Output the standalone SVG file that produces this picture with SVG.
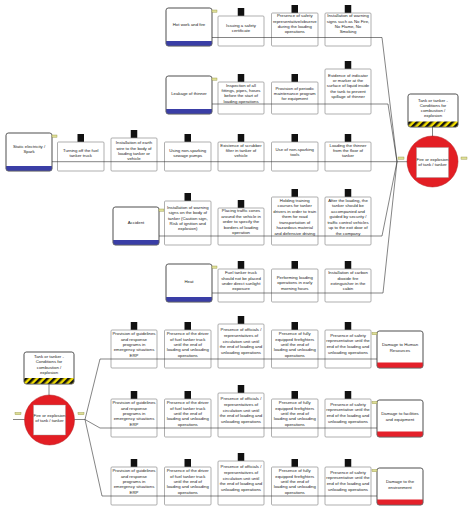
<svg xmlns="http://www.w3.org/2000/svg" width="474" height="513" viewBox="0 0 474 513">
<style>
.t{font-family:"Liberation Sans",Arial,sans-serif;font-size:4.3px;fill:#1a1a1a;text-anchor:middle}
.b{fill:#fff;stroke:#8c8c8c;stroke-width:0.7}
.tab{fill:#111}
.n{fill:#fff;stroke:#666;stroke-width:0.7}
.no{fill:none;stroke:#666;stroke-width:0.7}
.blue{fill:#3a3ea6}
.red{fill:#e4202a}
.c{fill:none;stroke:#333;stroke-width:0.6}
.tag{fill:#dede96;stroke:#8f8f3c;stroke-width:0.4}
.circ{fill:#e31e24;stroke:#b3161b;stroke-width:0.5}
.sq{fill:#fff;stroke:#999;stroke-width:0.4}
</style>
<defs>
<pattern id="hz" width="5" height="5" patternUnits="userSpaceOnUse" patternTransform="rotate(45)"><rect width="5" height="5" fill="#f2de00"/><rect width="2.5" height="5" fill="#111"/></pattern>
</defs>
<rect width="474" height="513" fill="#fff"/>

<!-- Threat nodes -->
<g id="threat-hot">
<rect class="n" x="166" y="8" width="46" height="38" rx="2.5"/>
<path class="blue" d="M166,41 h46 v2.5 a2.5,2.5 0 0 1 -2.5,2.5 h-41 a2.5,2.5 0 0 1 -2.5,-2.5 z"/>
<rect class="no" x="166" y="8" width="46" height="38" rx="2.5"/>
<text class="t" x="189" y="26">Hot work and fire</text>
<rect class="tag" x="212" y="10" width="5" height="2.2"/>
</g>
<g id="threat-leak">
<rect class="n" x="166" y="76" width="46" height="38" rx="2.5"/>
<path class="blue" d="M166,109 h46 v2.5 a2.5,2.5 0 0 1 -2.5,2.5 h-41 a2.5,2.5 0 0 1 -2.5,-2.5 z"/>
<rect class="no" x="166" y="76" width="46" height="38" rx="2.5"/>
<text class="t" x="189" y="95">Leakage of thinner</text>
<rect class="tag" x="212" y="78" width="5" height="2.2"/>
</g>
<g id="threat-static">
<rect class="n" x="6" y="133" width="46" height="38" rx="2.5"/>
<path class="blue" d="M6,166 h46 v2.5 a2.5,2.5 0 0 1 -2.5,2.5 h-41 a2.5,2.5 0 0 1 -2.5,-2.5 z"/>
<rect class="no" x="6" y="133" width="46" height="38" rx="2.5"/>
<text class="t"><tspan x="29" y="147.5">Static electricity /</tspan><tspan x="29" y="152.8">Spark</tspan></text>
<rect class="tag" x="52" y="135" width="5" height="2.2"/>
</g>
<g id="threat-accident">
<rect class="n" x="113" y="207" width="46" height="38" rx="2.5"/>
<path class="blue" d="M113,240 h46 v2.5 a2.5,2.5 0 0 1 -2.5,2.5 h-41 a2.5,2.5 0 0 1 -2.5,-2.5 z"/>
<rect class="no" x="113" y="207" width="46" height="38" rx="2.5"/>
<text class="t" x="136" y="224">Accident</text>
<rect class="tag" x="159" y="209" width="5" height="2.2"/>
</g>
<g id="threat-heat">
<rect class="n" x="166" y="264" width="46" height="38" rx="2.5"/>
<path class="blue" d="M166,297 h46 v2.5 a2.5,2.5 0 0 1 -2.5,2.5 h-41 a2.5,2.5 0 0 1 -2.5,-2.5 z"/>
<rect class="no" x="166" y="264" width="46" height="38" rx="2.5"/>
<text class="t" x="189" y="283">Heat</text>
<rect class="tag" x="212" y="266" width="5" height="2.2"/>
</g>

<!-- Row 1 barriers -->
<g id="b-1-1"><rect class="tab" x="237.75" y="8" width="6.5" height="8"/><rect class="b" x="218" y="16" width="46" height="30" rx="1"/>
<text class="t"><tspan x="241" y="26.5">Issuing a safety</tspan><tspan x="241" y="31.8">certificate</tspan></text></g>
<g id="b-1-2"><rect class="tab" x="291.5" y="5" width="6.5" height="8"/><rect class="b" x="271.5" y="13" width="46.5" height="33" rx="1"/>
<text class="t"><tspan x="294.75" y="17.2">Presence of safety</tspan><tspan x="294.75" y="22.5">representative/observe</tspan><tspan x="294.75" y="27.8">during the loading</tspan><tspan x="294.75" y="33.1">operations</tspan></text></g>
<g id="b-1-3"><rect class="tab" x="344.75" y="5" width="6.5" height="8"/><rect class="b" x="325" y="13" width="46" height="33" rx="1"/>
<text class="t"><tspan x="348" y="17.2">Installation of warning</tspan><tspan x="348" y="22.5">signs such as No Fire,</tspan><tspan x="348" y="27.8">No Flame, No</tspan><tspan x="348" y="33.1">Smoking</tspan></text></g>

<!-- Row 2 barriers -->
<g id="b-2-1"><rect class="tab" x="237.75" y="74" width="6.5" height="8"/><rect class="b" x="218" y="82" width="46" height="32" rx="1"/>
<text class="t"><tspan x="241" y="87">Inspection of all</tspan><tspan x="241" y="92.2">fittings, pipes, hoses</tspan><tspan x="241" y="97.4">before the start of</tspan><tspan x="241" y="102.6">loading operations</tspan></text></g>
<g id="b-2-2"><rect class="tab" x="291.5" y="74" width="6.5" height="8"/><rect class="b" x="271.5" y="82" width="46.5" height="32" rx="1"/>
<text class="t"><tspan x="294.75" y="89.8">Provision of periodic</tspan><tspan x="294.75" y="95.1">maintenance program</tspan><tspan x="294.75" y="100.4">for equipment</tspan></text></g>
<g id="b-2-3"><rect class="tab" x="344.75" y="61" width="6.5" height="8"/><rect class="b" x="325" y="69" width="46" height="45" rx="1"/>
<text class="t"><tspan x="348" y="76.8">Evidence of indicator</tspan><tspan x="348" y="82.1">or marker at the</tspan><tspan x="348" y="87.4">surface of liquid inside</tspan><tspan x="348" y="92.7">the tank to prevent</tspan><tspan x="348" y="98">spillage of thinner</tspan></text></g>

<!-- Row 3 barriers -->
<g id="b-3-1"><rect class="tab" x="77.5" y="134" width="6.5" height="8"/><rect class="b" x="57.5" y="142" width="46.5" height="29" rx="1"/>
<text class="t"><tspan x="80.75" y="151.5">Turning off the fuel</tspan><tspan x="80.75" y="156.8">tanker truck</tspan></text></g>
<g id="b-3-2"><rect class="tab" x="130.75" y="130" width="6.5" height="8"/><rect class="b" x="111" y="138" width="46" height="33" rx="1"/>
<text class="t"><tspan x="134" y="144.2">Installation of earth</tspan><tspan x="134" y="149.5">wire to the body of</tspan><tspan x="134" y="154.8">loading tanker or</tspan><tspan x="134" y="160.1">vehicle</tspan></text></g>
<g id="b-3-3"><rect class="tab" x="184.5" y="134" width="6.5" height="8"/><rect class="b" x="164.5" y="142" width="46.5" height="29" rx="1"/>
<text class="t"><tspan x="187.75" y="151.5">Using non-sparking</tspan><tspan x="187.75" y="156.8">sewage pumps</tspan></text></g>
<g id="b-3-4"><rect class="tab" x="237.75" y="134" width="6.5" height="8"/><rect class="b" x="218" y="142" width="46" height="29" rx="1"/>
<text class="t"><tspan x="241" y="146.5">Existence of  scrubber</tspan><tspan x="241" y="151.8">filter in tanker of</tspan><tspan x="241" y="157.1">vehicle</tspan></text></g>
<g id="b-3-5"><rect class="tab" x="291.5" y="134" width="6.5" height="8"/><rect class="b" x="271.5" y="142" width="46.5" height="29" rx="1"/>
<text class="t"><tspan x="294.75" y="150.5">Use of non-sparking</tspan><tspan x="294.75" y="155.8">tools</tspan></text></g>
<g id="b-3-6"><rect class="tab" x="344.75" y="134" width="6.5" height="8"/><rect class="b" x="325" y="142" width="46" height="29" rx="1"/>
<text class="t"><tspan x="348" y="146.5">Loading the thinner</tspan><tspan x="348" y="151.8">from the floor of</tspan><tspan x="348" y="157.1">tanker</tspan></text></g>

<!-- Row 4 barriers -->
<g id="b-4-1"><rect class="tab" x="184.5" y="193" width="6.5" height="8"/><rect class="b" x="164.5" y="201" width="46.5" height="44" rx="1"/>
<text class="t"><tspan x="187.75" y="208.8">Installation of warning</tspan><tspan x="187.75" y="214.2">signs on the body of</tspan><tspan x="187.75" y="219.6">tanker (Caution sign,</tspan><tspan x="187.75" y="225">Risk of ignition and</tspan><tspan x="187.75" y="230.4">explosion)</tspan></text></g>
<g id="b-4-2"><rect class="tab" x="237.75" y="200" width="6.5" height="8"/><rect class="b" x="218" y="208" width="46" height="37" rx="1"/>
<text class="t"><tspan x="241" y="212">Placing traffic cones</tspan><tspan x="241" y="217.5">around the vehicle in</tspan><tspan x="241" y="223">order to specify the</tspan><tspan x="241" y="228.5">borders of loading</tspan><tspan x="241" y="234">operation</tspan></text></g>
<g id="b-4-3"><rect class="tab" x="291.5" y="189" width="6.5" height="8"/><rect class="b" x="271.5" y="197" width="46.5" height="48" rx="1"/>
<text class="t"><tspan x="294.75" y="201.5">Holding training</tspan><tspan x="294.75" y="207.05">courses for tanker</tspan><tspan x="294.75" y="212.6">drivers in order to train</tspan><tspan x="294.75" y="218.15">them for road</tspan><tspan x="294.75" y="223.7">transportation of</tspan><tspan x="294.75" y="229.25">hazardous material</tspan><tspan x="294.75" y="234.8">and defensive driving</tspan></text></g>
<g id="b-4-4"><rect class="tab" x="344.75" y="189" width="6.5" height="8"/><rect class="b" x="325" y="197" width="46" height="48" rx="1"/>
<text class="t"><tspan x="348" y="201.5">After the loading, the</tspan><tspan x="348" y="207.05">tanker should be</tspan><tspan x="348" y="212.6">accompanied and</tspan><tspan x="348" y="218.15">guided by security /</tspan><tspan x="348" y="223.7">traffic control vehicles</tspan><tspan x="348" y="229.25">up to the exit door of</tspan><tspan x="348" y="234.8">the company</tspan></text></g>

<!-- Row 5 barriers -->
<g id="b-5-1"><rect class="tab" x="237.75" y="261" width="6.5" height="8"/><rect class="b" x="218" y="269" width="46" height="33" rx="1"/>
<text class="t"><tspan x="241" y="274.2">Fuel tanker truck</tspan><tspan x="241" y="279.6">should not be placed</tspan><tspan x="241" y="285">under direct sunlight</tspan><tspan x="241" y="290.4">exposure</tspan></text></g>
<g id="b-5-2"><rect class="tab" x="291.5" y="261" width="6.5" height="8"/><rect class="b" x="271.5" y="269" width="46.5" height="33" rx="1"/>
<text class="t"><tspan x="294.75" y="279">Performing loading</tspan><tspan x="294.75" y="284.4">operations in early</tspan><tspan x="294.75" y="289.8">morning hours</tspan></text></g>
<g id="b-5-3"><rect class="tab" x="344.75" y="261" width="6.5" height="8"/><rect class="b" x="325" y="269" width="46" height="33" rx="1"/>
<text class="t"><tspan x="348" y="274.2">Installation of carbon</tspan><tspan x="348" y="279.6">dioxide fire</tspan><tspan x="348" y="285">extinguisher in the</tspan><tspan x="348" y="290.4">cabin</tspan></text></g>

<!-- Top hazard and top event -->
<g id="hazard-top">
<rect class="n" x="408" y="94" width="50" height="33" rx="2.5"/>
<path fill="url(#hz)" d="M408,121.5 h50 v3 a2.5,2.5 0 0 1 -2.5,2.5 h-45 a2.5,2.5 0 0 1 -2.5,-2.5 z"/>
<rect class="no" x="408" y="94" width="50" height="33" rx="2.5"/>
<text class="t"><tspan x="433" y="101.5">Tank or tanker -</tspan><tspan x="433" y="106.8">Conditions for</tspan><tspan x="433" y="112.1">combustion /</tspan><tspan x="433" y="117.4">explosion</tspan></text>
</g>
<g id="event-top">
<circle class="circ" cx="432.5" cy="161.5" r="25.5"/>
<rect class="sq" x="416.5" y="147.5" width="32" height="30"/>
<text class="t"><tspan x="432.5" y="160.8">Fire or explosion</tspan><tspan x="432.5" y="166">of tank / tanker</tspan></text>
<rect class="tag" x="398" y="157" width="6" height="2.2"/>
<rect class="tag" x="461" y="157" width="6" height="2.2"/>
</g>

<!-- Bottom hazard and event -->
<g id="hazard-bottom">
<rect class="n" x="24" y="352" width="50" height="32" rx="2.5"/>
<path fill="url(#hz)" d="M24,378 h50 v3.5 a2.5,2.5 0 0 1 -2.5,2.5 h-45 a2.5,2.5 0 0 1 -2.5,-2.5 z"/>
<rect class="no" x="24" y="352" width="50" height="32" rx="2.5"/>
<text class="t"><tspan x="49" y="358">Tank or tanker -</tspan><tspan x="49" y="363.4">Conditions for</tspan><tspan x="49" y="368.8">combustion /</tspan><tspan x="49" y="374.2">explosion</tspan></text>
</g>
<g id="event-bottom">
<circle class="circ" cx="49.5" cy="420" r="25"/>
<rect class="sq" x="33.5" y="405" width="32" height="30"/>
<text class="t"><tspan x="49.5" y="416.5">Fire or explosion</tspan><tspan x="49.5" y="421.8">of tank / tanker</tspan></text>
<rect class="tag" x="15" y="412.5" width="6" height="2.2"/>
<rect class="tag" x="78" y="412.5" width="6" height="2.2"/>
</g>

<!-- Bottom row A (L=359) -->
<g id="b-A-1"><rect class="tab" x="130.75" y="322" width="6.5" height="8"/><rect class="b" x="111" y="330" width="46" height="38" rx="1"/>
<text class="t"><tspan x="134" y="335.2">Provision of guidelines</tspan><tspan x="134" y="340.6">and response</tspan><tspan x="134" y="346">programs in</tspan><tspan x="134" y="351.4">emergency situations</tspan><tspan x="134" y="356.8">ERP</tspan></text></g>
<g id="b-A-2"><rect class="tab" x="184.5" y="322" width="6.5" height="8"/><rect class="b" x="164.5" y="330" width="46.5" height="38" rx="1"/>
<text class="t"><tspan x="187.75" y="335.2">Presence of the driver</tspan><tspan x="187.75" y="340.6">of fuel tanker truck</tspan><tspan x="187.75" y="346">until the end of</tspan><tspan x="187.75" y="351.4">loading and unloading</tspan><tspan x="187.75" y="356.8">operations</tspan></text></g>
<g id="b-A-3"><rect class="tab" x="237.75" y="316" width="6.5" height="8"/><rect class="b" x="218" y="324" width="46" height="44" rx="1"/>
<text class="t"><tspan x="241" y="331">Presence of officials /</tspan><tspan x="241" y="336.8">representatives of</tspan><tspan x="241" y="342.6">circulation unit until</tspan><tspan x="241" y="348.4">the end of loading and</tspan><tspan x="241" y="354.2">unloading operations</tspan></text></g>
<g id="b-A-4"><rect class="tab" x="291.5" y="322" width="6.5" height="8"/><rect class="b" x="271.5" y="330" width="46.5" height="38" rx="1"/>
<text class="t"><tspan x="294.75" y="335.2">Presence of fully</tspan><tspan x="294.75" y="340.6">equipped firefighters</tspan><tspan x="294.75" y="346">until the end of</tspan><tspan x="294.75" y="351.4">loading and unloading</tspan><tspan x="294.75" y="356.8">operations</tspan></text></g>
<g id="b-A-5"><rect class="tab" x="344.75" y="322" width="6.5" height="8"/><rect class="b" x="325" y="330" width="46" height="38" rx="1"/>
<text class="t"><tspan x="348" y="336.8">Presence of safety</tspan><tspan x="348" y="342.4">representative until the</tspan><tspan x="348" y="348">end of the loading and</tspan><tspan x="348" y="353.6">unloading operations</tspan></text></g>
<g id="cons-A">
<rect class="n" x="377" y="331" width="46" height="37" rx="2.5"/>
<path class="red" d="M377,362.5 h46 v3 a2.5,2.5 0 0 1 -2.5,2.5 h-41 a2.5,2.5 0 0 1 -2.5,-2.5 z"/>
<rect class="no" x="377" y="331" width="46" height="37" rx="2.5"/>
<text class="t"><tspan x="400" y="346.4">Damage to Human</tspan><tspan x="400" y="351.8">Resources</tspan></text>
<rect class="tag" x="372" y="332.5" width="5" height="2.2"/>
</g>

<!-- Bottom row B (L=428) -->
<g id="b-B-1"><rect class="tab" x="130.75" y="391" width="6.5" height="8"/><rect class="b" x="111" y="399" width="46" height="38" rx="1"/>
<text class="t"><tspan x="134" y="404.2">Provision of guidelines</tspan><tspan x="134" y="409.6">and response</tspan><tspan x="134" y="415">programs in</tspan><tspan x="134" y="420.4">emergency situations</tspan><tspan x="134" y="425.8">ERP</tspan></text></g>
<g id="b-B-2"><rect class="tab" x="184.5" y="391" width="6.5" height="8"/><rect class="b" x="164.5" y="399" width="46.5" height="38" rx="1"/>
<text class="t"><tspan x="187.75" y="404.2">Presence of the driver</tspan><tspan x="187.75" y="409.6">of fuel tanker truck</tspan><tspan x="187.75" y="415">until the end of</tspan><tspan x="187.75" y="420.4">loading and unloading</tspan><tspan x="187.75" y="425.8">operations</tspan></text></g>
<g id="b-B-3"><rect class="tab" x="237.75" y="385" width="6.5" height="8"/><rect class="b" x="218" y="393" width="46" height="44" rx="1"/>
<text class="t"><tspan x="241" y="400">Presence of officials /</tspan><tspan x="241" y="405.8">representatives of</tspan><tspan x="241" y="411.6">circulation unit until</tspan><tspan x="241" y="417.4">the end of loading and</tspan><tspan x="241" y="423.2">unloading operations</tspan></text></g>
<g id="b-B-4"><rect class="tab" x="291.5" y="391" width="6.5" height="8"/><rect class="b" x="271.5" y="399" width="46.5" height="38" rx="1"/>
<text class="t"><tspan x="294.75" y="404.2">Presence of fully</tspan><tspan x="294.75" y="409.6">equipped firefighters</tspan><tspan x="294.75" y="415">until the end of</tspan><tspan x="294.75" y="420.4">loading and unloading</tspan><tspan x="294.75" y="425.8">operations</tspan></text></g>
<g id="b-B-5"><rect class="tab" x="344.75" y="391" width="6.5" height="8"/><rect class="b" x="325" y="399" width="46" height="38" rx="1"/>
<text class="t"><tspan x="348" y="405.8">Presence of safety</tspan><tspan x="348" y="411.4">representative until the</tspan><tspan x="348" y="417">end of the loading and</tspan><tspan x="348" y="422.6">unloading operations</tspan></text></g>
<g id="cons-B">
<rect class="n" x="377" y="400" width="46" height="37" rx="2.5"/>
<path class="red" d="M377,431.5 h46 v3 a2.5,2.5 0 0 1 -2.5,2.5 h-41 a2.5,2.5 0 0 1 -2.5,-2.5 z"/>
<rect class="no" x="377" y="400" width="46" height="37" rx="2.5"/>
<text class="t"><tspan x="400" y="415.4">Damage to facilities</tspan><tspan x="400" y="420.8">and equipment</tspan></text>
<rect class="tag" x="372" y="401.5" width="5" height="2.2"/>
</g>

<!-- Bottom row C (L=496) -->
<g id="b-C-1"><rect class="tab" x="130.75" y="459" width="6.5" height="8"/><rect class="b" x="111" y="467" width="46" height="38" rx="1"/>
<text class="t"><tspan x="134" y="472.2">Provision of guidelines</tspan><tspan x="134" y="477.6">and response</tspan><tspan x="134" y="483">programs in</tspan><tspan x="134" y="488.4">emergency situations</tspan><tspan x="134" y="493.8">ERP</tspan></text></g>
<g id="b-C-2"><rect class="tab" x="184.5" y="459" width="6.5" height="8"/><rect class="b" x="164.5" y="467" width="46.5" height="38" rx="1"/>
<text class="t"><tspan x="187.75" y="472.2">Presence of the driver</tspan><tspan x="187.75" y="477.6">of fuel tanker truck</tspan><tspan x="187.75" y="483">until the end of</tspan><tspan x="187.75" y="488.4">loading and unloading</tspan><tspan x="187.75" y="493.8">operations</tspan></text></g>
<g id="b-C-3"><rect class="tab" x="237.75" y="453" width="6.5" height="8"/><rect class="b" x="218" y="461" width="46" height="44" rx="1"/>
<text class="t"><tspan x="241" y="468">Presence of officials /</tspan><tspan x="241" y="473.8">representatives of</tspan><tspan x="241" y="479.6">circulation unit until</tspan><tspan x="241" y="485.4">the end of loading and</tspan><tspan x="241" y="491.2">unloading operations</tspan></text></g>
<g id="b-C-4"><rect class="tab" x="291.5" y="459" width="6.5" height="8"/><rect class="b" x="271.5" y="467" width="46.5" height="38" rx="1"/>
<text class="t"><tspan x="294.75" y="472.2">Presence of fully</tspan><tspan x="294.75" y="477.6">equipped firefighters</tspan><tspan x="294.75" y="483">until the end of</tspan><tspan x="294.75" y="488.4">loading and unloading</tspan><tspan x="294.75" y="493.8">operations</tspan></text></g>
<g id="b-C-5"><rect class="tab" x="344.75" y="459" width="6.5" height="8"/><rect class="b" x="325" y="467" width="46" height="38" rx="1"/>
<text class="t"><tspan x="348" y="473.8">Presence of safety</tspan><tspan x="348" y="479.4">representative until the</tspan><tspan x="348" y="485">end of the loading and</tspan><tspan x="348" y="490.6">unloading operations</tspan></text></g>
<g id="cons-C">
<rect class="n" x="377" y="468" width="46" height="37" rx="2.5"/>
<path class="red" d="M377,499.5 h46 v3 a2.5,2.5 0 0 1 -2.5,2.5 h-41 a2.5,2.5 0 0 1 -2.5,-2.5 z"/>
<rect class="no" x="377" y="468" width="46" height="37" rx="2.5"/>
<text class="t"><tspan x="400" y="483.4">Damage to the</tspan><tspan x="400" y="488.8">environment</tspan></text>
<rect class="tag" x="372" y="469.5" width="5" height="2.2"/>
</g>

<!-- Connectors -->
<g id="connectors">
<path class="c" d="M212,37.5 H382 L397,161.7"/>
<path class="c" d="M212,104 H388 L397,161.7"/>
<path class="c" d="M52,161.7 H407"/>
<path class="c" d="M159,236 H382 L397,161.7"/>
<path class="c" d="M212,293 H383 L397,161.7"/>
<path class="c" d="M432.5,127 V136"/>
<path class="c" d="M49,384 V395"/>
<path class="c" d="M13,419.5 H24.5"/>
<path class="c" d="M74.5,419.5 H85 L100,359 H377"/>
<path class="c" d="M85,419.5 L100,428 H377"/>
<path class="c" d="M85,419.5 L102,496 H377"/>
</g>
</svg>
